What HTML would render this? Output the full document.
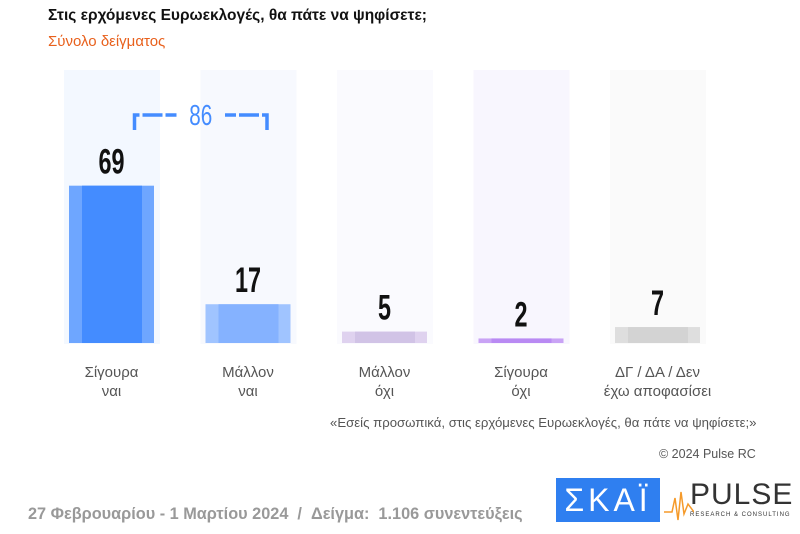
<!DOCTYPE html>
<html><head><meta charset="utf-8">
<style>
body{margin:0;width:800px;height:534px;background:#fff;font-family:"Liberation Sans",sans-serif;position:relative;overflow:hidden}
.t{position:absolute;white-space:nowrap}
</style></head><body>
<div class="t" style="left:48px;top:7px;font-size:15.5px;font-weight:bold;color:#111">Στις ερχόμενες Ευρωεκλογές, θα πάτε να ψηφίσετε;</div>
<div class="t" style="left:48px;top:33px;font-size:15px;color:#e8601c">Σύνολο δείγματος</div>
<svg id="chart" width="800" height="534" style="position:absolute;left:0;top:0"></svg>
<div class="t" style="left:330px;top:415px;font-size:13.2px;color:#555">«Εσείς προσωπικά, στις ερχόμενες Ευρωεκλογές, θα πάτε να ψηφίσετε;»</div>
<div class="t" style="left:659px;top:447px;font-size:12.5px;color:#555">© 2024 Pulse RC</div>
<div class="t" style="left:28px;top:505px;font-size:16.3px;font-weight:bold;color:#999">27 Φεβρουαρίου - 1 Μαρτίου 2024 &nbsp;/ &nbsp;Δείγμα: &nbsp;1.106 συνεντεύξεις</div>
<div style="position:absolute;left:556px;top:478px;width:104px;height:44px;background:#2f7ff0;color:#fff;font-size:32px;text-align:center;line-height:44px;letter-spacing:4px">ΣΚΑΪ</div>
<div class="t" style="left:690px;top:478px;font-size:30px;color:#333;letter-spacing:1px">PULSE</div>
<div class="t" style="left:690px;top:512px;font-size:6px;color:#333;letter-spacing:1px">RESEARCH &amp; CONSULTING</div>
<svg width="30" height="40" style="position:absolute;left:664px;top:484px"><polyline points="0,28 8,28 11,14 14,36 17,8 20,30 24,20 30,28" fill="none" stroke="#f59a2a" stroke-width="1.5"/></svg>
<script>
const categories=["Σίγουρα|ναι","Μάλλον|ναι","Μάλλον|όχι","Σίγουρα|όχι","ΔΓ / ΔΑ / Δεν|έχω αποφασίσει"];
const values=[69,17,5,2,7];
const bracketTotal=86;
const outerColors=["#6ea6ff","#a0c4ff","#dfd2ef","#c9a3f5","#dedede"];
const innerColors=["#448cff","#85b2ff","#d1c3e6","#b98af3","#d3d3d3"];
const bgColors=["#f3f8ff","#f7f9fe","#fafafe","#f8f6fe","#fafafa"];
const svg=document.getElementById('chart');
const NS="http://www.w3.org/2000/svg";
const base=343,scale=2.28,colX0=64,colStep=136.5,colW=96;
function y(v){return base-v*scale;}
function colX(i){return colX0+i*colStep;}
function mk(t,a){const e=document.createElementNS(NS,t);for(const k in a)e.setAttribute(k,a[k]);svg.appendChild(e);return e;}
categories.forEach((c,i)=>{
  const bg=mk('rect',{x:colX(i),y:70,width:colW,height:base-70+1,fill:bgColors[i]});
  
  
});
categories.forEach((c,i)=>{
  const x=colX(i)+5;
  const b=mk('rect',{x:x,y:y(values[i]),width:85,height:values[i]*scale,fill:outerColors[i]});
  
  
  const b2=mk('rect',{x:x+13,y:y(values[i]),width:60,height:values[i]*scale,fill:innerColors[i]});
  
  
  const s=String(values[i]);
  const t=mk('text',{x:x+42.5,y:y(values[i])-12,'text-anchor':'middle','font-size':35,'font-weight':'bold',fill:'#111','textLength':13*s.length,'lengthAdjust':'spacingAndGlyphs'});
  t.textContent=s;
  
  
  c.split('|').forEach((ln,j)=>{
    const l=mk('text',{x:x+42.5,y:377+j*19,'text-anchor':'middle','font-size':15,fill:'#555'});
    l.textContent=ln;
    
    
  });
});
const bx1=colX(0)+42.5+28,bx2=colX(1)+42.5+24,by=115;
const br=mk('path',{d:`M${bx1},${by+15} V${by} H${bx1+42} M${bx2},${by+15} V${by} H${bx2-42}`,fill:'none',stroke:'#448cff','stroke-width':3.5,'stroke-dasharray':'20,3'});


const bt=mk('text',{x:(bx1+bx2)/2,y:by+10,'text-anchor':'middle','font-size':29,fill:'#448cff','textLength':23,'lengthAdjust':'spacingAndGlyphs'});
bt.textContent=bracketTotal;


</script>
</body></html>
